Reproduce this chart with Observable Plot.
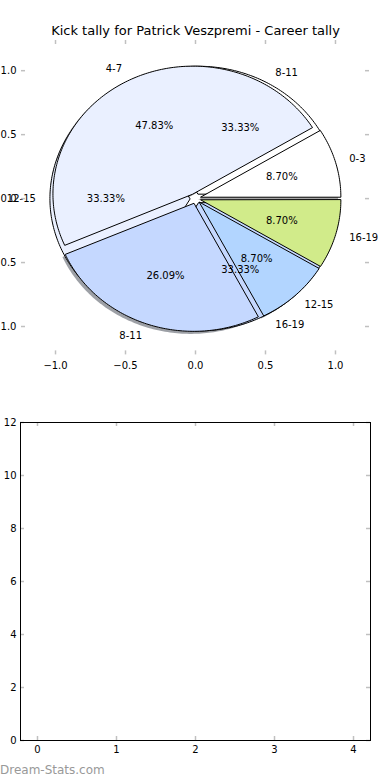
<!DOCTYPE html>
<html><head><meta charset="utf-8">
<script src="https://cdn.jsdelivr.net/npm/d3@7"></script>
<script src="https://cdn.jsdelivr.net/npm/@observablehq/plot@0.6"></script>
<style>
body{margin:0;background:#fff;font-family:"DejaVu Sans",sans-serif;}
#wrap{position:relative;width:390px;height:780px;overflow:hidden;background:#fff;}
#wrap svg{display:block;}
#mark{position:absolute;left:0;top:763px;font-size:12px;line-height:14px;color:#999;font-family:"DejaVu Sans",sans-serif;}
</style></head><body><div id="wrap"></div>
<script>
const title = "Kick tally for Patrick Veszpremi - Career tally";
const careerLabels = ["0-3", "4-7", "8-11", "12-15", "16-19"];
const careerCounts = [2, 11, 6, 2, 2];
const careerColors = ["#ffffff", "#eaf0ff", "#c5d8ff", "#b2d5ff", "#d1eb8a"];
const otherLabels = ["8-11", "12-15", "16-19"];
const otherCounts = [1, 1, 1];
const otherColors = ["#ffffff", "#eaf0ff", "#c5d8ff"];
const pieXTicks = [-1, -0.5, 0, 0.5, 1];
const pieYTicks = [-1, -0.5, 0, 0.5, 1];
const barXTicks = [0, 1, 2, 3, 4];
const barYTicks = [0, 2, 4, 6, 8, 10, 12];
const explode = 0.04;
const watermark = "Dream-Stats.com";

function wedges(labels, counts, colors) {
  const total = d3.sum(counts);
  let acc = 0;
  return labels.map((label, i) => {
    const t1 = acc / total * 2 * Math.PI;
    acc += counts[i];
    const t2 = acc / total * 2 * Math.PI;
    const tm = (t1 + t2) / 2;
    const cx = explode * Math.cos(tm), cy = explode * Math.sin(tm);
    const n = Math.max(2, Math.ceil((t2 - t1) / (Math.PI / 180)));
    const pts = [{x: cx, y: cy}];
    for (let k = 0; k <= n; k++) {
      const t = t1 + (t2 - t1) * k / n;
      pts.push({x: cx + Math.cos(t), y: cy + Math.sin(t)});
    }
    return {label, pct: counts[i] / total * 100, color: colors[i], cx, cy, tm, pts,
      lx: cx + 1.1 * Math.cos(tm), ly: cy + 1.1 * Math.sin(tm),
      px: cx + 0.6 * Math.cos(tm), py: cy + 0.6 * Math.sin(tm)};
  });
}
const A = wedges(careerLabels, careerCounts, careerColors);
const B = wedges(otherLabels, otherCounts, otherColors);
const dark = c => { const r = d3.rgb(c); return d3.rgb(r.r * 0.3, r.g * 0.3, r.b * 0.3).formatHex(); };
const fmt1 = d => d.toFixed(1).replace("-", "\u2212");

const topH = 381, topMT = 40, topMB = 26.6, topML = 21, topMR = 21;
const topFH = topH - topMT - topMB, topFW = 390 - topML - topMR;
const tickCol = "#c0c0c0";

const marks1 = [];
A.forEach(w => marks1.push(Plot.line(w.pts.map(p => ({x: p.x - 0.02, y: p.y - 0.02})), {x: "x", y: "y", curve: "linear-closed", fill: dark(w.color), fillOpacity: 0.5, stroke: "none"})));
B.forEach(w => marks1.push(Plot.line(w.pts, {x: "x", y: "y", curve: "linear-closed", fill: w.color, stroke: "black", strokeWidth: 1})));
A.forEach(w => marks1.push(Plot.line(w.pts, {x: "x", y: "y", curve: "linear-closed", fill: w.color, stroke: "black", strokeWidth: 1})));
const allW = B.concat(A);
marks1.push(
  Plot.text(allW.filter(w => w.lx > 0), {x: "lx", y: "ly", text: "label", textAnchor: "start"}),
  Plot.text(allW.filter(w => w.lx <= 0), {x: "lx", y: "ly", text: "label", textAnchor: "end"}),
  Plot.text(allW, {x: "px", y: "py", text: d => d.pct.toFixed(2) + "%"}),
  Plot.tickX(pieXTicks, {x: d => d, insetBottom: topFH - 4, stroke: tickCol, strokeWidth: 1.5}),
  Plot.tickX(pieXTicks, {x: d => d, insetTop: topFH - 4, stroke: tickCol, strokeWidth: 1.5}),
  Plot.tickY(pieYTicks, {y: d => d, insetRight: topFW - 4, stroke: tickCol, strokeWidth: 1.5}),
  Plot.tickY(pieYTicks, {y: d => d, insetLeft: topFW - 4, stroke: tickCol, strokeWidth: 1.5}),
  Plot.axisX(pieXTicks, {anchor: "bottom", tickSize: 0, tickPadding: 7, tickFormat: fmt1}),
  Plot.axisY(pieYTicks, {anchor: "left", tickSize: 0, tickPadding: 5, tickFormat: fmt1}),
  Plot.text([title], {frameAnchor: "top", lineAnchor: "middle", dy: -10, fontSize: 13})
);

const plot1 = Plot.plot({
  width: 390, height: topH, marginTop: topMT, marginBottom: topMB, marginLeft: topML, marginRight: topMR,
  x: {domain: [-1.243, 1.243], axis: null},
  y: {domain: [-1.222, 1.236], axis: null},
  style: {fontFamily: "DejaVu Sans", fontSize: "10px", color: "#000", background: "#fff", overflow: "visible"},
  marks: marks1
});

const botH = 399, botMT = 41, botMB = 40, botML = 20, botMR = 20;
const botFH = botH - botMT - botMB, botFW = 390 - botML - botMR;
const plot2 = Plot.plot({
  width: 390, height: botH, marginTop: botMT, marginBottom: botMB, marginLeft: botML, marginRight: botMR,
  x: {domain: [-0.215, 4.215], axis: null},
  y: {domain: [0, 12], axis: null},
  style: {fontFamily: "DejaVu Sans", fontSize: "10px", color: "#000", background: "#fff"},
  marks: [
    Plot.tickX(barXTicks, {x: d => d, insetBottom: botFH - 4, stroke: tickCol, strokeWidth: 1.5}),
    Plot.tickX(barXTicks, {x: d => d, insetTop: botFH - 4, stroke: tickCol, strokeWidth: 1.5}),
    Plot.tickY(barYTicks, {y: d => d, insetRight: botFW - 4, stroke: tickCol, strokeWidth: 1.5}),
    Plot.tickY(barYTicks, {y: d => d, insetLeft: botFW - 4, stroke: tickCol, strokeWidth: 1.5}),
    Plot.frame({stroke: "black", strokeWidth: 1}),
    Plot.axisX(barXTicks, {anchor: "bottom", tickSize: 0, tickPadding: 5, tickFormat: d => String(d)}),
    Plot.axisY(barYTicks, {anchor: "left", tickSize: 0, tickPadding: 4, tickFormat: d => String(d)})
  ]
});

const wrap = document.getElementById("wrap");
wrap.appendChild(plot1);
wrap.appendChild(plot2);
const m = document.createElement("div");
m.id = "mark";
m.textContent = watermark;
wrap.appendChild(m);
</script>
</body></html>
